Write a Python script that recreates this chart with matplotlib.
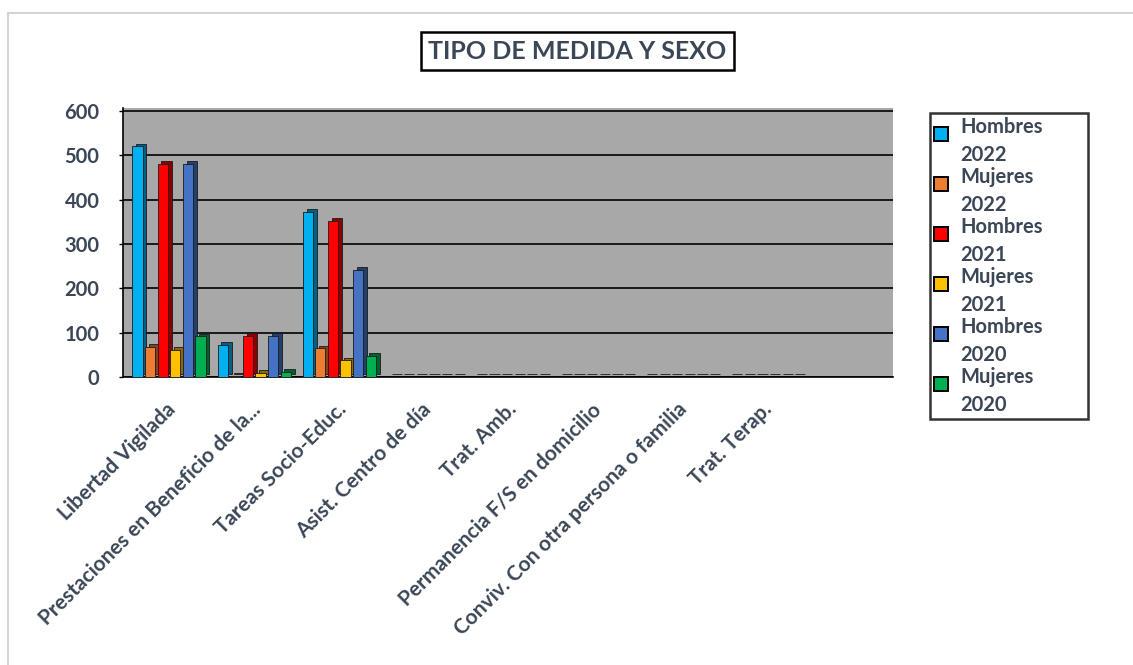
import numpy as np
import matplotlib
matplotlib.use("Agg")
import matplotlib.pyplot as plt
from matplotlib.patches import Patch, Rectangle
from matplotlib.legend_handler import HandlerPatch
from matplotlib.colors import to_rgb
from matplotlib.transforms import ScaledTranslation

categorias = ["Libertad Vigilada", "Prestaciones en Beneficio de la...",
              "Tareas Socio-Educ.", "Asist. Centro de día", "Trat. Amb.",
              "Permanencia F/S en domicilio", "Conviv. Con otra persona o familia",
              "Trat. Terap."]

series = ["Hombres\n2022", "Mujeres\n2022", "Hombres\n2021",
          "Mujeres\n2021", "Hombres\n2020", "Mujeres\n2020"]

hombres_2022 = [520, 72, 372, 1, 1, 1, 1, 1]
mujeres_2022 = [68, 3, 65, 1, 1, 1, 1, 1]
hombres_2021 = [480, 93, 352, 1, 1, 1, 1, 1]
mujeres_2021 = [62, 10, 38, 1, 1, 1, 1, 1]
hombres_2020 = [480, 93, 242, 1, 1, 1, 1, 1]
mujeres_2020 = [92, 12, 48, 1, 1, 1, 1, 1]

valores = [hombres_2022, mujeres_2022, hombres_2021,
           mujeres_2021, hombres_2020, mujeres_2020]
colores = ["#00b0f0", "#ed7d31", "#ff0000", "#ffc000", "#4472c4", "#00b050"]

texto = "#3b4656"
plt.rcParams['font.family'] = ['Lato', 'DejaVu Sans']

fig = plt.figure(figsize=(11.33, 6.65), dpi=100)

# marco gris claro del gráfico
fig.patches.append(Rectangle((8 / 1133, -0.1), 1.2, 1 - 13 / 665 + 0.1,
                             transform=fig.transFigure, fill=False,
                             edgecolor="#d4d4d4", linewidth=1.5))

ax = fig.add_axes([0.1086, 0.433, 0.680, 0.405])
ax.set_facecolor("#a8a8a8")

x = np.arange(len(categorias))
ancho = 0.12
paso = 0.148
dx = 0.045
dy = 6

for i, (vals, col) in enumerate(zip(valores, colores)):
    pos = x - 0.39 + i * paso + ancho / 2
    oscuro = tuple(c * 0.55 for c in to_rgb(col))
    # cara lateral / superior (efecto 3D)
    ax.bar(pos + dx, vals, width=ancho, bottom=dy, color=oscuro,
           edgecolor="#1a1a1a", linewidth=0.6, zorder=3)
    ax.bar(pos, vals, width=ancho, color=col, edgecolor="#1a1a1a",
           linewidth=0.6, zorder=4)

ax.set_xlim(-0.5, len(categorias) + 0.55)
ax.set_ylim(0, 607)
ax.set_yticks(range(0, 601, 100))
ax.yaxis.grid(True, color="black", linewidth=1.2, zorder=1)
ax.set_axisbelow(True)
ax.set_xticks(x)
ax.set_xticklabels(categorias, rotation=45, ha="right", rotation_mode="anchor",
                   fontsize=15, fontweight="bold", color=texto)
desplaza = ScaledTranslation(-7 / 100, 0, fig.dpi_scale_trans)
for t in ax.get_xticklabels():
    t.set_transform(t.get_transform() + desplaza)
ax.tick_params(axis="x", length=0, pad=16)
ax.tick_params(axis="y", length=3, width=1, pad=14, labelsize=14.5,
               labelcolor=texto)
for t in ax.get_yticklabels():
    t.set_fontweight("bold")
for s in ["top", "right"]:
    ax.spines[s].set_visible(False)
ax.spines["left"].set_color("black")
ax.spines["left"].set_linewidth(1.2)
ax.spines["bottom"].set_color("black")
ax.spines["bottom"].set_linewidth(1.2)

fig.text(0.5095, 0.923, "TIPO DE MEDIDA Y SEXO", ha="center", va="center",
         fontsize=18, fontweight="bold", color=texto,
         bbox=dict(boxstyle="square,pad=0.3", facecolor="white",
                   edgecolor="black", linewidth=1.8))


def cuadro_arriba(legend, orig_handle, xdescent, ydescent, width, height, fontsize):
    lado = fontsize * 0.68
    return Rectangle((-xdescent, -ydescent + height - lado - fontsize * 0.12),
                     lado, lado)


handles = [Patch(facecolor=c, edgecolor="black", linewidth=1.4) for c in colores]
leg = fig.legend(handles, series, loc="upper left",
                 bbox_to_anchor=(0.8208, 0.368, 0.1395, 0.462), mode="expand",
                 frameon=True, fancybox=False, edgecolor="black",
                 fontsize=14.5, handlelength=0.7, handleheight=2.4,
                 handletextpad=0.6, labelspacing=0.1, borderpad=0.2,
                 borderaxespad=0,
                 handler_map={Patch: HandlerPatch(patch_func=cuadro_arriba)})
leg.get_frame().set_linewidth(1.8)
for t in leg.get_texts():
    t.set_color(texto)
    t.set_fontweight("bold")
    t.set_linespacing(1.5)

fig.savefig("out.png", dpi=100, facecolor="white")
